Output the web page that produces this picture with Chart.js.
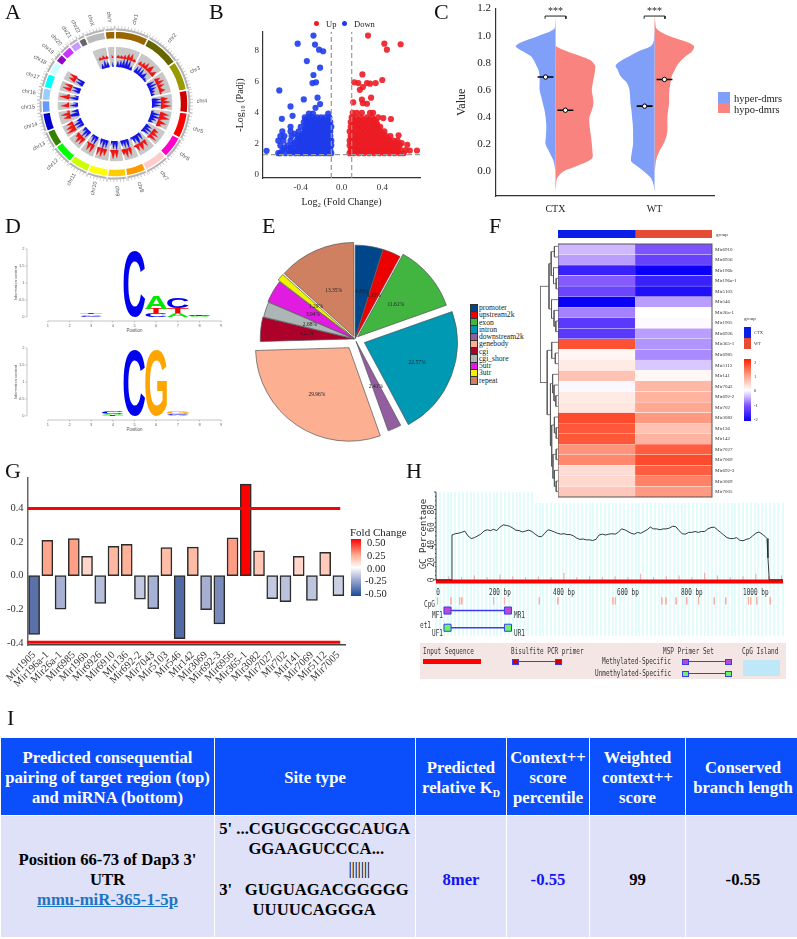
<!DOCTYPE html>
<html>
<head>
<meta charset="utf-8">
<script src="https://cdn.jsdelivr.net/npm/chart.js@4/dist/chart.umd.js"></script>
<style>
  html, body { margin: 0; background: #fff; }
  #page { position: relative; width: 797px; height: 939px; overflow: hidden; font-family: "Liberation Serif", serif; }
  canvas { position: absolute; }
  .txt { position: absolute; white-space: nowrap; transform-origin: left center; }
  .box { position: absolute; }
  table { position: absolute; left: 0; top: 737px; width: 797px; height: 201px; border-collapse: separate; border-spacing: 1.5px; table-layout: fixed;
    font: bold 16.7px/20.3px "Liberation Serif", serif; text-align: center; }
  th { background: #0a4ffb; color: #fff; font-weight: bold; padding: 3px 0 0 0; }
  td { background: #dfe1f8; color: #000; padding: 7px 0 0 0; }
  td.blue { color: #1414f0; }
  td a { color: #1b75c4; text-decoration: underline; }
  td.seq { text-align: left; line-height: 20.2px; padding: 0 0 14px 0; }
  sub { font-size: 10px; line-height: 0; }
</style>
</head>
<body>
<div id="page">
<table>
  <colgroup><col style="width:213px"><col style="width:200px"><col style="width:90px"><col style="width:82px"><col style="width:95px"><col style="width:114px"></colgroup>
  <tr style="height:77px">
    <th>Predicted consequential<br>pairing of target region (top)<br>and miRNA (bottom)</th>
    <th>Site type</th>
    <th>Predicted<br>relative K<sub>D</sub></th>
    <th>Context++<br>score<br>percentile</th>
    <th>Weighted<br>context++<br>score</th>
    <th>Conserved<br>branch length</th>
  </tr>
  <tr>
    <td>Position 66-73 of Dap3 3'<br>UTR<br><a href="#">mmu-miR-365-1-5p</a></td>
    <td class="seq">&nbsp;5' ...CGUGCGCGCAUGA<br>&nbsp;&nbsp;&nbsp;&nbsp;&nbsp;&nbsp;&nbsp;&nbsp;GGAAGUCCCA...<br>&nbsp;&nbsp;&nbsp;&nbsp;&nbsp;&nbsp;&nbsp;&nbsp;&nbsp;&nbsp;&nbsp;&nbsp;&nbsp;&nbsp;&nbsp;&nbsp;&nbsp;&nbsp;&nbsp;&nbsp;&nbsp;&nbsp;&nbsp;&nbsp;&nbsp;&nbsp;&nbsp;&nbsp;&nbsp;&nbsp;&nbsp;&nbsp;<span style="font-weight:normal;letter-spacing:-0.3px">|||||||</span><br>&nbsp;3'&nbsp;&nbsp;&nbsp;GUGUAGACGGGGG<br>&nbsp;&nbsp;&nbsp;&nbsp;&nbsp;&nbsp;&nbsp;&nbsp;&nbsp;UUUUCAGGGA</td>
    <td class="blue">8mer</td>
    <td class="blue">-0.55</td>
    <td>99</td>
    <td>-0.55</td>
  </tr>
</table>
</div>

<script>
// panel A - chromosome ring and tracks
var chrLabels = ['chr1','chr2','chr3','chr4','chr5','chr6','chr7','chr8','chr9','chr10','chr11','chr12','chr13','chr14','chr15','chr16','chr17','chr18','chr19','chr20','chr21','chr22','chrX','chrY'];
var chrSpans = [27,28,24,18,21,18,19,16,15,16,16,16,14,15,10,10,12,11,7,9,8,6,16,8];
var chrColors = ['#996600','#666600','#999900','#cc0000','#ff0000','#ff00cc','#ffcccc','#ff9900','#ffcc00','#ffff00','#ccff00','#00ff00','#358000','#0000cc','#6699ff','#99ccff','#00ffff','#ccffff','#9900cc','#cc33ff','#cc99ff','#666666','#bbbbbb','#996600'];
var gap15 = [null,null,null,null,null,null,null,null,null,null,null,null,null,null,null];
var redTrack = [
  null,1,3,1,3,1,4,1,6,2,7,1,3,1,
  null,1,4,1,5,2,7,1,5,8,1,3,6,1,
  null,1,6,2,8,1,7,2,3,6,1,2,
  null,2,7,3,9,1,10,4,1,
  null,2,9,3,10,4,1,9,3,5,1,
  null,1,6,2,8,1,9,2,1,
  null,1,7,1,5,8,1,7,2,1,
  null,2,8,1,9,3,6,1,
  null,1,8,2,9,3,1,
  null,1,7,2,9,1,8,1,
  null,2,9,1,8,2,1,
  null,1,8,2,9,3,5,1,
  null,2,10,3,9,1,7,1,
  null,1,7,2,9,1,3,
  null,1,8,2,1,
  null,2,10,3,1,
  null,2,9,1,8,1,
  null,1,7,2,8,1
].concat(gap15, [null,1,3,1,4,1,3,1], [null,3,1]);
var blueTrack = [
  null,1,6,1,7,2,9,2,11,3,9,1,4,1,
  null,1,7,2,9,1,8,2,4,7,1,3,1,2,
  null,1,8,2,10,1,7,2,5,1,4,1,
  null,2,9,3,11,2,9,2,1,
  null,3,1,10,2,11,3,7,2,5,1,
  null,1,7,2,10,1,8,2,1,
  null,2,8,1,7,10,2,7,1,3,
  null,3,10,1,8,2,6,1,
  null,2,9,2,8,1,5,
  null,1,8,2,10,1,6,1,
  null,2,10,1,8,1,4,
  null,1,8,2,10,1,5,1,
  null,2,8,1,10,2,5,1,
  null,1,8,10,1,7,1,
  null,2,8,1,5,
  null,2,10,1,5,
  null,1,8,2,9,1,
  null,1,8,2,10,1
].concat(gap15, [null,1,5,1,8,2,6,1], [null,5,1]);

// panel B - volcano, outliers read singly and the dense part read row by row
var upX = [.26,.42,.58,.445,.205,.4,.125,.165,.25,.28,.335,.21,.18,.115,.2,.21,.25,.29,.485,.41,.56,.74,.67,.645,.55,.59];
var upY = [8.97,8.45,8.41,8.06,6.47,6.11,5.96,5.91,5.91,5.87,5.91,5.66,5.48,4.67,4.84,4.62,4.58,4.97,3.6,3.66,2.55,1.57,1.57,1.94,2.05,2.05];
var downX = [-.275,-.43,-.26,-.22,-.18,-.34,-.21,-.275,-.285,-.25,-.61,-.37,-.235,-.21,-.255,-.5,-.48,-.585,-.735];
var downY = [8.97,8.45,8.39,8.06,7.96,7.33,6.9,6.43,5.91,5.96,5.44,4.86,4.97,4.56,4.32,4.41,3.8,3.61,1.55];
var upRowY = [1.4,1.5,1.6,1.75,1.9,2.05,2.2,2.35,2.5,2.65,2.8,2.95,3.1,3.25,3.4,3.55,3.7,4.0];
var upRowX = [
  [.08,.12,.17,.22,.27,.32,.37,.42,.47,.52,.57,.61],
  [.1,.15,.2,.25,.3,.35,.4,.45,.5,.55],
  [.09,.14,.19,.24,.29,.34,.39,.44,.49,.54,.58,.63],
  [.1,.155,.21,.26,.31,.36,.41,.46,.51,.55],
  [.08,.13,.18,.23,.28,.33,.38,.43,.48,.53,.57],
  [.1,.15,.2,.25,.3,.35,.4,.45,.5],
  [.08,.12,.17,.22,.27,.32,.37,.42,.47,.51,.55],
  [.1,.15,.2,.25,.3,.35,.4,.45],
  [.09,.14,.19,.24,.29,.34,.39,.44,.48],
  [.11,.16,.21,.26,.31,.36,.41],
  [.08,.13,.18,.23,.28,.33,.38,.42],
  [.11,.16,.21,.26,.31,.36],
  [.09,.13,.18,.23,.28,.33,.38],
  [.11,.16,.21,.26,.31,.35],
  [.09,.14,.19,.24,.29,.34],
  [.12,.17,.22,.27,.32],
  [.1,.14,.19,.25,.3,.36],
  [.11,.15,.2,.28,.31]
];
var downRowY = [1.4,1.5,1.6,1.75,1.9,2.05,2.2,2.35,2.5,2.65,2.8,2.95,3.1,3.25,3.4,3.55,3.7,3.95];
var downRowX = [
  [-.1,-.13,-.17,-.21,-.25,-.29,-.33,-.37,-.41,-.45,-.5,-.55,-.6,-.62],
  [-.12,-.16,-.2,-.24,-.28,-.32,-.36,-.4,-.44,-.49],
  [-.11,-.15,-.19,-.23,-.27,-.31,-.35,-.39,-.43,-.47,-.52,-.58],
  [-.12,-.16,-.2,-.25,-.29,-.33,-.37,-.41,-.45,-.5,-.56],
  [-.1,-.14,-.18,-.22,-.26,-.3,-.34,-.38,-.42,-.48,-.53,-.6],
  [-.12,-.16,-.21,-.26,-.3,-.34,-.38,-.42,-.46],
  [-.1,-.15,-.2,-.24,-.28,-.32,-.36,-.4,-.44,-.5,-.57,-.62],
  [-.12,-.17,-.22,-.26,-.3,-.34,-.38,-.42],
  [-.11,-.14,-.19,-.23,-.27,-.31,-.35,-.39,-.43,-.49,-.56,-.6],
  [-.13,-.18,-.22,-.26,-.3,-.34,-.38,-.46],
  [-.11,-.15,-.2,-.24,-.28,-.32,-.36,-.42,-.5,-.58],
  [-.12,-.16,-.2,-.24,-.28,-.32,-.36],
  [-.1,-.14,-.18,-.22,-.26,-.3,-.34,-.4,-.5],
  [-.12,-.17,-.22,-.27,-.32,-.35],
  [-.11,-.15,-.2,-.25,-.3,-.33,-.37],
  [-.13,-.18,-.23,-.27,-.31,-.35],
  [-.12,-.16,-.2,-.24,-.28,-.32,-.36],
  [-.13,-.28,-.32]
];

// panel C - split violins
var violinGrid = [1.15,1.1,1.05,1.0,.95,.92,.88,.85,.82,.78,.75,.7,.65,.6,.55,.5,.45,.4,.35,.3,.25,.2,.15,.1,.07,.03,0,-.05,-.1,-.15];
var ctxHyper = [0,.003,.013,.167,.35,.4,.317,.25,.22,.193,.173,.16,.16,.16,.143,.127,.11,.1,.093,.093,.097,.1,.067,.033,.017,.007,0,0,0,0];
var ctxHypo = [0,0,.003,.003,.003,.01,.133,.25,.35,.4,.4,.39,.377,.367,.377,.383,.367,.343,.343,.35,.36,.367,.373,.373,.317,.183,.083,.017,.007,0];
var wtHyper = [0,0,0,.003,.013,.043,.177,.25,.327,.393,.373,.343,.277,.253,.247,.243,.233,.227,.22,.217,.217,.217,.227,.237,.233,.16,.11,.037,.01,0];
var wtHypo = [0,.007,.023,.14,.34,.4,.373,.317,.273,.227,.207,.173,.16,.15,.147,.147,.137,.13,.13,.13,.117,.09,.05,.023,.013,.007,0,0,0,0];
var violinMedians = [.695,.45,.48,.677];

// panel D - logo stacks, bottom layer first
var logoPositions = ['1','2','3','4','5','6','7','8','9'];
var logoTicks = [0,.5,1,1.5,2];
var logo1Heights = [
  [.01,.01,.03,.01,1.95,.12,.12,.02,.01],
  [.01,.01,.05,.01,0,.13,.15,.02,.01],
  [.01,.01,.05,.01,0,.36,.3,.03,.01]
];
var logo1Letters = [
  ['G','T','C','T','C','C','A','A','T'],
  ['A','C','A','C','C','T','T','T','A'],
  ['T','G','T','G','C','A','C','C','G']
];
var logo2Heights = [
  [.01,.01,.01,.02,1.92,1.92,.02,.01,.01],
  [.01,.01,.01,.04,0,0,.05,.01,.01],
  [.01,.01,.01,.06,0,0,.06,.01,.01]
];
var logo2Letters = [
  ['A','T','C','T','C','G','A','G','T'],
  ['G','A','T','A','C','G','C','A','C'],
  ['T','C','G','C','C','G','G','C','A']
];

// panel E
var regionNames = ['promoter','upstream2k','exon','intron','downstream2k','genebody','cgi','cgi_shore','5utr','3utr','repeat'];
var regionPercent = [4.83,3.15,11.61,22.57,2.41,29.96,4.21,2.68,3.94,1.29,13.35];
var regionColors = ['#00468b','#ed0000','#42b540','#0099b4','#925e9f','#fdaf91','#ad002a','#adb6b6','#e11be1','#f1f100','#cf8060'];
var regionOffset = [2,2,14,40,10,42,4,2,4,8,12];

// panel F - z-scores, one row per miRNA
var heatRows = ['Mir6910','Mir6956','Mir196b','Mir196a-1','Mir5103','Mir546','Mir26a-1','Mir1905','Mir6926','Mir365-1','Mir6985','Mir5112','Mir141','Mir7043','Mir692-2','Mir702','Mir3082','Mir136','Mir142','Mir7027','Mir7069','Mir692-3','Mir3069','Mir7005'];
var heatCtx = [-.45,-.6,-1.6,-.95,-1.15,-2,-.75,-1.3,-1.3,1.6,.1,.2,.6,-.05,.2,.25,1.65,1.55,1.55,1.05,1.15,.35,.4,.55];
var heatWt = [-1,-1.2,-2,-1.6,-1.8,-.6,0,-.03,-.6,-.65,-.7,-.35,.08,.7,.75,.85,1,.6,.75,1.5,1.65,1.5,1.2,1];
var heatStops = [[-2,'#0a00f5'],[-1,'#7d52ff'],[-.5,'#c8b0ff'],[0,'#ffffff'],[1,'#ff9a80'],[2,'#ff2000']];
// [merge height, child, child], children are row numbers or further merges
var heatTree = [1,
  [.5,
    [.38,[.2,1,2],[.25,3,[.1,4,5]]],
    [.36,6,[.22,7,[.12,8,9]]]],
  [.6,
    [.35,10,[.15,11,12]],
    [.42,
      [.3,13,[.22,14,[.12,15,16]]],
      [.35,[.2,17,[.1,18,19]],[.28,[.1,20,21],[.2,22,[.1,23,24]]]]]]];

// panel G
var foldNames = ['Mir1905','Mir196a-1','Mir26a-1','Mir6985','Mir196b','Mir6926','Mir6910','Mir136','Mir692-2','Mir7043','Mir5103','Mir546','Mir142','Mir3069','Mir692-3','Mir6956','Mir365-1','Mir3082','Mir7027','Mir702','Mir141','Mir7069','Mir5112','Mir7005'];
var foldValues = [-.35,.21,-.2,.22,.115,-.165,.175,.187,-.14,-.197,.167,-.375,.17,-.202,-.287,.225,.545,.147,-.137,-.155,.115,-.147,.138,-.12];
var foldStops = [[-.5,'#1a4a96'],[-.35,'#5a70a8'],[-.2,'#a6b0d2'],[0,'#ffffff'],[.11,'#ffd8cc'],[.2,'#ffab90'],[.5,'#ff0000']];

// panel H
var gcBp = [0,47,50,60,70,80,90,100,110,120,130,140,150,160,170,180,190,200,210,220,230,240,250,260,270,280,290,300,310,320,330,340,350,360,370,380,390,400,410,420,430,440,450,460,470,480,490,500,510,520,530,540,550,560,570,580,590,600,610,620,630,640,650,660,670,680,690,700,710,720,730,740,750,760,770,780,790,800,810,820,830,840,850,860,870,880,890,900,910,920,930,940,950,960,970,980,990,1000,1010,1020,1030,1035,1038,1042,1085];
var gcValue = [0,0,51,52.5,53,54,55.5,50,47,48,50,52,55.5,57,56,57.5,56,60,62.5,62,61,59,56.5,56,54.5,55.5,56.5,55,52,49.5,49,53,57,56,54.5,53,52,52.5,51.5,51.5,50,47.5,46,46.5,45.5,45.5,44.8,46,51,52,51,52,52.5,52,54,58,57,55,53,52,54,53,55,57,60,58,58,57,58,58,59,61,60.5,56,52.5,52,54,54,55,54,55,55,58,59.5,60,57,54,51,48,47,47,48,45,44.5,46,47,50,53,54.5,52,49,47,25,0,0];
var siteBp = [0,40,80,120,160,200,240,280,320,360,400,440,480,520,560,600,640,680,720,760,800,840,880,920,960,1000,1040,1080];
var siteHeight = [3,4,3,5,3,6,4,3,4,3,8,3,4,3,4,3,7,3,4,5,3,8,5,3,4,7,4,5];
var cpgBp = [5,47,74,81,180,214,323,381,553,561,706,719,751,784,821,870,906,977,984,1003,1045];
var gcTicks = [0,20,40,60,80];
var bpTicks = [0,200,400,600,800,1000];

// ---- helpers ----
var page = document.getElementById('page');

function newCanvas(left, top, w, h, bg) {
  var c = document.createElement('canvas');
  c.width = w; c.height = h;
  c.style.left = left + 'px'; c.style.top = top + 'px';
  c.style.width = w + 'px'; c.style.height = h + 'px';
  if (bg) c.style.background = bg;
  page.appendChild(c);
  return c.getContext('2d');
}

function putText(text, x, y, css) {
  var d = document.createElement('div');
  d.className = 'txt';
  d.textContent = text;
  d.style.cssText = 'left:' + x + 'px;top:' + y + 'px;' + (css || '');
  if (d.style.transform == '') d.style.transform = 'translateY(-50%)';
  page.appendChild(d);
  return d;
}

function putBox(x, y, w, h, css) {
  var d = document.createElement('div');
  d.className = 'box';
  d.style.cssText = 'left:' + x + 'px;top:' + y + 'px;width:' + w + 'px;height:' + h + 'px;' + (css || '');
  page.appendChild(d);
}

function colorAt(stops, v) {
  for (var i = 1; i < stops.length; i++) {
    if (v <= stops[i][0] || i == stops.length - 1) {
      var a = stops[i - 1], b = stops[i];
      var t = Math.max(0, Math.min(1, (v - a[0]) / (b[0] - a[0])));
      var out = [1, 3, 5].map(function (p) {
        var ca = parseInt(a[1].substr(p, 2), 16), cb = parseInt(b[1].substr(p, 2), 16);
        return Math.round(ca + (cb - ca) * t);
      });
      return 'rgb(' + out.join(',') + ')';
    }
  }
}

function base() {
  return { responsive: false, animation: false, devicePixelRatio: 1, events: [], plugins: { legend: { display: false }, tooltip: { enabled: false } } };
}

function opts(extra) {
  return Object.assign(base(), extra);
}

function fixedWidth(w) { return function (s) { s.width = w; }; }
function fixedHeight(h) { return function (s) { s.height = h; }; }
function rows(ys, xs) {
  var out = [];
  ys.forEach(function (y, i) { xs[i].forEach(function (x) { out.push({ x: x, y: y }); }); });
  return out;
}

// ---- panels ----
function showCircos() {
  var ring = {
    id: 'ring',
    afterDraw: function (chart) {
      var c = chart.ctx, cx = 100, cy = 100, start = 0;
      c.save();
      chrSpans.forEach(function (span, i) {
        var a0 = (start + .6 - 90) * Math.PI / 180, a1 = (start + span - .6 - 90) * Math.PI / 180;
        c.strokeStyle = '#b5b5b5'; c.lineWidth = 2;
        c.beginPath(); c.arc(cx, cy, 74.5, a0, a1); c.stroke();
        c.strokeStyle = '#999'; c.lineWidth = .5;
        for (var t = 0; t <= span; t += 2.5) {
          var a = (start + t - 90) * Math.PI / 180;
          c.beginPath(); c.moveTo(cx + 75 * Math.cos(a), cy + 75 * Math.sin(a)); c.lineTo(cx + 78 * Math.cos(a), cy + 78 * Math.sin(a)); c.stroke();
        }
        var mid = start + span / 2, m = (mid - 90) * Math.PI / 180;
        c.save();
        c.translate(cx + 87 * Math.cos(m), cy + 87 * Math.sin(m));
        c.rotate(mid < 180 ? m : m + Math.PI);
        c.font = '5.5px "Liberation Sans"'; c.fillStyle = '#555'; c.textAlign = 'center'; c.textBaseline = 'middle';
        c.fillText(chrLabels[i], 0, 0);
        c.restore();
        start += span;
      });
      c.restore();
    }
  };
  new Chart(newCanvas(15, 4, 200, 200), {
    type: 'doughnut',
    data: {
      labels: chrLabels,
      datasets: [
        { data: chrSpans, backgroundColor: chrColors, borderColor: '#fff', borderWidth: 1.5, weight: 8 },
        { data: [360], backgroundColor: 'rgba(0,0,0,0)', borderWidth: 0, weight: 7 },
        { data: chrSpans, backgroundColor: chrLabels.map(function (n) { return /chr(19|2\d)/.test(n) ? 'rgba(0,0,0,0)' : '#c8c8c8'; }), borderColor: '#fff', borderWidth: 1.5, weight: 21 }
      ]
    },
    options: opts({ radius: 73, cutout: '50.7%' }),
    plugins: [ring]
  });
  new Chart(newCanvas(15, 4, 200, 200), {
    type: 'radar',
    data: {
      labels: redTrack.map(function (v, i) { return i; }),
      datasets: [
        { data: redTrack.map(function (v) { return v == null ? null : 46 + v; }), borderColor: '#f01414', backgroundColor: '#f01414', borderWidth: .3, pointRadius: 0, fill: { value: 46 }, tension: 0, spanGaps: false },
        { data: blueTrack.map(function (v) { return v == null ? null : 37 + v; }), borderColor: '#1414e8', backgroundColor: '#1414e8', borderWidth: .3, pointRadius: 0, fill: { value: 37 }, tension: 0, spanGaps: false }
      ]
    },
    options: opts({ scales: { r: { display: false, min: 0, max: 100 } } })
  });
}

function showVolcano() {
  var f = '"Liberation Serif"';
  new Chart(newCanvas(210, 0, 215, 210), {
    type: 'scatter',
    data: {
      datasets: [
        { data: [{ x: -.77, y: 1.3 }, { x: .77, y: 1.3 }], showLine: true, borderColor: '#999', borderWidth: 1.2, borderDash: [5, 3], pointRadius: 0, order: 0 },
        { data: [{ x: -.1, y: -.2 }, { x: -.1, y: 9.2 }], showLine: true, borderColor: '#999', borderWidth: 1.2, borderDash: [5, 3], pointRadius: 0, order: 0 },
        { data: [{ x: .1, y: -.2 }, { x: .1, y: 9.2 }], showLine: true, borderColor: '#999', borderWidth: 1.2, borderDash: [5, 3], pointRadius: 0, order: 0 },
        { label: 'Up', data: upX.map(function (x, i) { return { x: x, y: upY[i] }; }).concat(rows(upRowY, upRowX)), backgroundColor: 'rgba(236,28,36,.9)', pointRadius: 3.1, borderWidth: 0, order: 1 },
        { label: 'Down', data: downX.map(function (x, i) { return { x: x, y: downY[i] }; }).concat(rows(downRowY, downRowX)), backgroundColor: 'rgba(30,60,235,.9)', pointRadius: 3.1, borderWidth: 0, order: 1 }
      ]
    },
    options: opts({
      layout: { padding: { top: 32, right: 5 } },
      scales: {
        x: { min: -.77, max: .77, afterFit: fixedHeight(32), afterBuildTicks: function (s) { s.ticks = [{ value: -.4 }, { value: 0 }, { value: .4 }]; },
          grid: { display: false, drawTicks: true, tickLength: 3, tickColor: '#444' }, border: { color: '#333', width: 1.2 },
          ticks: { maxRotation: 0, color: '#333', font: { family: f, size: 9 }, padding: 1, callback: function (v) { return v.toFixed(1); } },
          title: { display: true, text: 'Log\u2082 (Fold Change)', color: '#222', font: { family: f, size: 10 }, padding: { top: 0, bottom: 2 } } },
        y: { min: -.2, max: 9.2, afterFit: fixedWidth(53), afterBuildTicks: function (s) { s.ticks = [0, 2, 4, 6, 8].map(function (v) { return { value: v }; }); },
          grid: { display: false, tickLength: 3, tickColor: '#444' }, border: { color: '#333', width: 1.2 },
          ticks: { color: '#333', font: { family: f, size: 9 }, padding: 1 },
          title: { display: true, text: '-Log\u2081\u2080 (Padj)', color: '#222', font: { family: f, size: 10 }, padding: { top: 24, bottom: 0 } } }
      }
    })
  });
  putBox(314, 21, 5, 5, 'background:#ec1c24;border-radius:50%');
  putText('Up', 326, 24, 'font-size:8.5px;color:#222');
  putBox(342, 21, 5, 5, 'background:#1e3ceb;border-radius:50%');
  putText('Down', 354, 24, 'font-size:8.5px;color:#222');
}

function showViolins() {
  var f = '"Liberation Serif"';
  var centers = [.6, .6, 1.6, 1.6];
  var sides = [-1, 1, -1, 1];
  var shapes = [ctxHyper, ctxHypo, wtHyper, wtHypo];
  var colors = ['#7f9ff9', '#f9837e', '#7f9ff9', '#f9837e'];
  var sets = shapes.map(function (w, k) {
    return {
      data: violinGrid.map(function (v, i) { return { x: centers[k] + sides[k] * w[i], y: v }; }),
      borderColor: colors[k], backgroundColor: colors[k], borderWidth: 0, pointRadius: 0, tension: .3,
      fill: { target: { value: centers[k] } }, order: 3
    };
  });
  violinMedians.forEach(function (m, k) {
    var c = centers[k] + sides[k] * .1;
    sets.push({ data: [{ x: c - .08, y: m }, { x: c, y: m }, { x: c + .08, y: m }], borderColor: '#000', borderWidth: 1.6,
      pointRadius: [0, 2.2, 0], pointBackgroundColor: '#fff', pointBorderColor: '#000', pointBorderWidth: 1, fill: false, order: 1 });
  });
  [.6, 1.6].forEach(function (c) {
    sets.push({ data: [{ x: c - .105, y: 1.125 }, { x: c - .105, y: 1.145 }, { x: c + .105, y: 1.145 }, { x: c + .105, y: 1.125 }], borderColor: '#222', borderWidth: 1, pointRadius: 0, fill: false, order: 1 });
  });
  new Chart(newCanvas(430, 0, 290, 218), {
    type: 'line',
    data: { datasets: sets },
    options: opts({
      indexAxis: 'y',
      layout: { padding: { top: 5, right: 6 } },
      scales: {
        x: { type: 'linear', min: 0, max: 2.2, afterFit: fixedHeight(22), afterBuildTicks: function (s) { s.ticks = [{ value: .6 }, { value: 1.6 }]; },
          grid: { display: false, tickLength: 3, tickColor: '#333' }, border: { color: '#333', width: 1.2 },
          ticks: { maxRotation: 0, color: '#222', font: { family: f, size: 10 }, padding: 4, callback: function (v) { return v < 1 ? 'CTX' : 'WT'; } } },
        y: { type: 'linear', min: -.183, max: 1.2, afterFit: fixedWidth(66), afterBuildTicks: function (s) { s.ticks = [0, .2, .4, .6, .8, 1, 1.2].map(function (v) { return { value: v }; }); },
          grid: { display: false, tickLength: 3, tickColor: '#333' }, border: { color: '#333', width: 1.2 },
          ticks: { color: '#222', font: { family: f, size: 11 }, padding: 2, callback: function (v) { return v.toFixed(1); } },
          title: { display: true, text: 'Value', color: '#222', font: { family: f, size: 12 }, padding: { top: 25, bottom: 0 } } }
      }
    })
  });
  putText('***', 548, 10, 'font-size:10px;color:#222');
  putText('***', 647, 10, 'font-size:10px;color:#222');
  putBox(718, 92, 12, 10.5, 'background:#7f9ff9');
  putBox(718, 102.5, 12, 10.5, 'background:#f9837e');
  putText('hyper-dmrs', 734, 97.5, 'font-size:10.5px;color:#222');
  putText('hypo-dmrs', 734, 108.5, 'font-size:10.5px;color:#222');
}

function showLogo(heights, letters, top) {
  var letterColor = { A: '#00e800', C: '#0000f0', G: '#ffa500', T: '#f00000' };
  var stretch = {
    id: 'stretch',
    afterDatasetsDraw: function (chart) {
      var c = chart.ctx;
      c.save();
      c.font = 'bold 100px "Liberation Sans"';
      c.textBaseline = 'alphabetic';
      c.textAlign = 'left';
      chart.data.datasets.forEach(function (ds, di) {
        chart.getDatasetMeta(di).data.forEach(function (el, i) {
          if (!heights[di][i]) return;
          var L = letters[di][i], m = c.measureText(L);
          var mw = m.actualBoundingBoxLeft + m.actualBoundingBoxRight, mh = m.actualBoundingBoxAscent + m.actualBoundingBoxDescent;
          var w = el.width, h = Math.abs(el.base - el.y);
          c.save();
          c.translate(el.x - w / 2, el.y);
          c.scale(w / mw, h / mh);
          c.fillStyle = letterColor[L];
          c.fillText(L, m.actualBoundingBoxLeft, m.actualBoundingBoxAscent);
          c.restore();
        });
      });
      // the logo axes sit away from the plot
      var x = chart.scales.x, y = chart.scales.y, b = y.getPixelForValue(0) + 4;
      c.strokeStyle = '#888'; c.lineWidth = .5;
      c.beginPath(); c.moveTo(x.getPixelForTick(0), b); c.lineTo(x.getPixelForTick(8), b);
      for (var i = 0; i < 9; i++) { c.moveTo(x.getPixelForTick(i), b); c.lineTo(x.getPixelForTick(i), b + 1.5); }
      c.moveTo(27, y.getPixelForValue(2)); c.lineTo(27, y.getPixelForValue(0));
      logoTicks.forEach(function (t) { c.moveTo(27, y.getPixelForValue(t)); c.lineTo(25.5, y.getPixelForValue(t)); });
      c.stroke();
      c.font = '4px "Liberation Sans"'; c.fillStyle = '#666'; c.textAlign = 'right'; c.textBaseline = 'middle';
      logoTicks.forEach(function (t) { c.fillText(t, 24.5, y.getPixelForValue(t)); });
      c.restore();
    }
  };
  new Chart(newCanvas(0, top, 240, 100), {
    type: 'bar',
    data: {
      labels: logoPositions,
      datasets: heights.map(function (h) { return { data: h, backgroundColor: 'rgba(0,0,0,0)', barPercentage: 1, categoryPercentage: 1, borderWidth: 0 }; })
    },
    options: opts({
      layout: { padding: { top: 6, right: 8 } },
      scales: {
        x: { stacked: true, afterFit: fixedHeight(26), grid: { display: false, drawTicks: false }, border: { display: false },
          ticks: { color: '#666', font: { size: 4 }, padding: 6, maxRotation: 0 },
          title: { display: true, text: 'Position', color: '#555', font: { size: 4.5 }, padding: { top: 0, bottom: 9.5 } } },
        y: { stacked: true, min: 0, max: 2, afterFit: fixedWidth(37), grid: { display: false, drawTicks: false }, border: { display: false },
          ticks: { display: false },
          title: { display: true, text: 'Information content', color: '#555', font: { size: 4 }, padding: { top: 13, bottom: 0 } } }
      }
    }),
    plugins: [stretch]
  });
}

function showPie() {
  var f = '"Liberation Serif"';
  var pct = {
    id: 'pct',
    afterDatasetsDraw: function (chart) {
      var c = chart.ctx;
      c.font = '5.5px ' + f; c.fillStyle = '#222'; c.textAlign = 'center'; c.textBaseline = 'middle';
      chart.getDatasetMeta(0).data.forEach(function (el, i) {
        var p = el.getCenterPoint();
        c.fillText(regionPercent[i].toFixed(2) + '%', p.x, p.y);
      });
    }
  };
  new Chart(newCanvas(240, 219, 230, 240), {
    type: 'pie',
    data: { labels: regionNames, datasets: [{ data: regionPercent, backgroundColor: regionColors, borderColor: '#555', borderWidth: .7, offset: regionOffset }] },
    options: opts({ radius: 93 }),
    plugins: [pct]
  });
  regionNames.forEach(function (n, i) {
    var y = 303.5 + i * 7.25;
    putBox(470, y, 5.5, 6.5, 'background:' + regionColors[i] + ';border:.5px solid #333');
    putText(n, 479, y + 3.5, 'font-size:7.6px;color:#222');
  });
}

function showHeatmap() {
  var f = '"Liberation Serif"';
  var frame = {
    id: 'frame',
    afterDraw: function (chart) {
      var a = chart.chartArea, c = chart.ctx;
      c.strokeStyle = '#555'; c.lineWidth = 1;
      c.strokeRect(a.left, a.top, a.right - a.left, a.bottom - a.top);
    }
  };
  function cell(values) {
    return { data: values.map(function () { return 1; }), backgroundColor: values.map(function (v) { return colorAt(heatStops, v); }), borderColor: '#fff', borderWidth: { top: .4, bottom: .4, left: .3, right: .3 }, barPercentage: 1, categoryPercentage: 1 };
  }
  new Chart(newCanvas(558, 238, 239, 265, '#fff'), {
    type: 'bar',
    data: { labels: heatRows, datasets: [cell(heatCtx), cell(heatWt)] },
    options: opts({
      indexAxis: 'y',
      layout: { padding: { top: 3, bottom: 6 } },
      scales: {
        x: { stacked: true, min: 0, max: 2, display: false },
        y: { stacked: true, position: 'right', afterFit: fixedWidth(85), grid: { display: false, drawTicks: false }, border: { display: false },
          ticks: { autoSkip: false, color: '#333', font: { family: f, size: 5 }, padding: 3, crossAlign: 'near' } }
      }
    }),
    plugins: [frame]
  });
  new Chart(newCanvas(558, 220, 239, 18, '#fff'), {
    type: 'bar',
    data: { labels: ['group'], datasets: [
      { data: [1], backgroundColor: '#0a1ee8', barPercentage: 1, categoryPercentage: 1 },
      { data: [1], backgroundColor: '#e64b35', barPercentage: 1, categoryPercentage: 1 }
    ] },
    options: opts({
      indexAxis: 'y',
      layout: { padding: { top: 10, right: 85 } },
      scales: {
        x: { stacked: true, min: 0, max: 2, display: false },
        y: { stacked: true, display: false }
      }
    })
  });
  putText('group', 716, 234, 'font-size:5px;color:#333');

  // dendrogram, segments separated by empty points
  var segs = [];
  function walk(node) {
    if (typeof node == 'number') return { h: 0, y: node };
    var a = walk(node[1]), b = walk(node[2]), h = node[0];
    segs.push({ x: a.h, y: a.y }, { x: h, y: a.y }, { x: h, y: b.y }, { x: b.h, y: b.y }, { x: null, y: null });
    return { h: h, y: (a.y + b.y) / 2 };
  }
  walk(heatTree);
  new Chart(newCanvas(535, 238, 23, 265, '#fff'), {
    type: 'scatter',
    data: { datasets: [{ data: segs, showLine: true, spanGaps: false, borderColor: '#555', borderWidth: .8, pointRadius: 0 }] },
    options: opts({
      layout: { padding: { left: 5, top: 3, bottom: 6 } },
      scales: {
        x: { display: false, min: 0, max: 1, reverse: true },
        y: { display: false, min: .5, max: 24.5, reverse: true }
      }
    })
  });

  putText('group', 744, 318, 'font-size:5px;color:#333');
  putBox(744, 327, 7, 10.5, 'background:#0a1ee8');
  putBox(744, 338, 7, 10.5, 'background:#e64b35');
  putText('CTX', 754, 332, 'font-size:4.5px;color:#333');
  putText('WT', 754, 343, 'font-size:4.5px;color:#333');
  putBox(744, 359, 7, 62, 'background:linear-gradient(#ff2000,#ff9a80 25%,#fff 50%,#c8b0ff 62%,#7d52ff 75%,#0a00f5)');
  ['2', '1', '0', '-1', '-2'].forEach(function (t, i) { putText(t, 754, 362 + i * 14.2, 'font-size:4.5px;color:#333'); });
}

function showFoldBars() {
  var f = '"Liberation Serif"';
  new Chart(newCanvas(0, 470, 400, 235), {
    type: 'bar',
    data: {
      labels: foldNames,
      datasets: [
        { xAxisID: 'x', data: foldValues, backgroundColor: foldValues.map(function (v) { return colorAt(foldStops, v); }), borderColor: '#2b2b2b', borderWidth: 1.5, barThickness: 11, grouped: false, borderSkipped: false, order: 1 },
        { type: 'line', xAxisID: 'x2', data: [{ x: 0, y: .4 }, { x: .985, y: .4 }], borderColor: '#ff0000', borderWidth: 3, pointRadius: 0, order: 0 },
        { type: 'line', xAxisID: 'x2', data: [{ x: 0, y: -.397 }, { x: .985, y: -.397 }], borderColor: '#ff0000', borderWidth: 3, pointRadius: 0, order: 0 }
      ]
    },
    options: opts({
      layout: { padding: { top: 7.7, right: 55 } },
      scales: {
        x: { afterFit: fixedHeight(60), grid: { display: false, tickLength: 4, tickColor: '#444' }, border: { color: '#444', width: 1.5 },
          ticks: { autoSkip: false, minRotation: 45, maxRotation: 45, color: '#333', font: { family: f, size: 10.5 }, padding: 0 } },
        x2: { type: 'linear', min: 0, max: 1, display: false, offset: false },
        y: { min: -.413, max: .583, afterFit: fixedWidth(27.5), afterBuildTicks: function (s) { s.ticks = [-.4, -.2, 0, .2, .4].map(function (v) { return { value: v }; }); },
          grid: { display: false, tickLength: 3, tickColor: '#444' }, border: { color: '#666', width: 1.5 },
          ticks: { color: '#333', font: { family: f, size: 10.5 }, padding: 1, callback: function (v) { return v.toFixed(1); } } }
      }
    })
  });
  putText('Fold Change', 350, 532, 'font-size:11px;color:#222');
  putBox(350.5, 539, 10.5, 57, 'background:linear-gradient(#ff0000,#ffab90 28%,#fff 50%,#a6b0d2 70%,#1a4a96)');
  ['0.50', '0.25', '0.00', '-0.25', '-0.50'].forEach(function (t, i) {
    putText(t, i < 3 ? 367 : 365, 542 + i * 12.8, 'font-size:10.5px;color:#222');
  });
}

function showGcPlot() {
  var mono = '"DejaVu Sans Mono"';
  var segments = function (xs, top) {
    var out = [];
    xs.forEach(function (x, i) { out.push({ x: x, y: top[0](i) }, { x: x, y: top[1](i) }, { x: null, y: null }); });
    return out;
  };
  var gcAxes = {
    id: 'gcAxes',
    afterDraw: function (chart) {
      var x = chart.scales.x, y = chart.scales.y, c = chart.ctx, x0 = chart.chartArea.left;
      c.save();
      c.strokeStyle = '#222'; c.lineWidth = .8; c.fillStyle = '#333';
      c.beginPath(); c.moveTo(x0, y.getPixelForValue(100)); c.lineTo(x0, y.getPixelForValue(0));
      for (var v = 0; v <= 100; v += 5) { c.moveTo(x0, y.getPixelForValue(v)); c.lineTo(x0 - (v % 20 ? 1 : 2), y.getPixelForValue(v)); }
      c.stroke();
      c.font = '8px ' + mono; c.textAlign = 'center'; c.textBaseline = 'middle';
      gcTicks.forEach(function (v) {
        c.save(); c.translate(x0 - 4, y.getPixelForValue(v)); c.rotate(-Math.PI / 2); c.fillText(v, 0, 0); c.restore();
      });
      c.save(); c.translate(24, y.getPixelForValue(52)); c.rotate(-Math.PI / 2); c.font = '9px ' + mono; c.fillText('GC Percentage', 0, 0); c.restore();
      c.font = '9px ' + mono;
      bpTicks.forEach(function (b) {
        c.save(); c.translate(x.getPixelForValue(b) + (b ? 0 : 2), y.getPixelForValue(0) + 13); c.scale(.67, 1); c.fillText(b ? b + ' bp' : '0', 0, 0); c.restore();
      });
      c.restore();
    }
  };
  var primer = function (yv, fill) {
    return { data: [{ x: 36, y: yv }, { x: 225, y: yv }], showLine: true, borderColor: '#3c3cf0', borderWidth: 1.4, pointStyle: 'rect', pointRadius: 5, pointBackgroundColor: fill, pointBorderColor: '#3c3cf0', pointBorderWidth: 1 };
  };
  new Chart(newCanvas(400, 486, 397, 156), {
    type: 'scatter',
    data: {
      datasets: [
        { data: gcBp.map(function (b, i) { return { x: b, y: gcValue[i] }; }), showLine: true, borderColor: '#222', borderWidth: .9, pointRadius: 0 },
        { data: [{ x: 0, y: -2 }, { x: 1085, y: -2 }], showLine: true, borderColor: '#f00', borderWidth: 4, pointRadius: 0 },
        { data: segments(siteBp, [function () { return 0; }, function (i) { return siteHeight[i]; }]), showLine: true, spanGaps: false, borderColor: '#f28a8a', borderWidth: .8, pointRadius: 0 },
        { data: segments(cpgBp, [function () { return -20; }, function () { return -28; }]), showLine: true, spanGaps: false, borderColor: '#fbb0a0', borderWidth: 1, pointRadius: 0 },
        primer(-35, '#b84ad6'),
        primer(-54.6, '#66f566')
      ]
    },
    options: opts({
      layout: { padding: { left: 36, right: 14 } },
      scales: {
        x: { display: false, min: 0, max: 1085 },
        stripes: { type: 'linear', axis: 'x', position: 'top', min: 0, max: 1085, afterFit: fixedHeight(0), ticks: { display: false, stepSize: 12, autoSkip: false, maxTicksLimit: 100 }, grid: { color: '#e2fbfb', lineWidth: 2, drawTicks: false }, border: { display: false } },
        y: { display: false, min: -64, max: 100 }
      }
    }),
    plugins: [gcAxes]
  });

  var narrow = 'font:9px ' + mono + ';color:#333;transform:translateY(-50%) scaleX(.67);';
  putText('CpG', 424, 604, narrow);
  putText('MF1', 432, 615, narrow);
  putText('MR1', 514, 615, narrow);
  putText('et1', 420, 625, narrow);
  putText('UF1', 432, 633, narrow);
  putText('UR1', 514, 633, narrow);

  putBox(420, 643, 366, 36, 'background:#f5e6e6');
  putText('Input Sequence', 423, 651, narrow);
  putBox(423, 658.5, 58, 5.5, 'background:#f00');
  putText('Bisulfite PCR primer', 511, 651, narrow);
  putBox(515, 661, 43, 1.4, 'background:#3c3cf0');
  putBox(511.5, 659, 5, 4, 'background:#d00000;border:1px solid #3c3cf0');
  putBox(555, 659, 5, 4, 'background:#d00000;border:1px solid #3c3cf0');
  putText('MSP Primer Set', 663, 651, narrow);
  putText('Methylated-Specific', 602, 661, narrow);
  putText('Unmethylated-Specific', 595, 672.5, narrow);
  putBox(684, 661, 43, 1.4, 'background:#3c3cf0');
  putBox(682, 659, 5, 4, 'background:#b84ad6;border:1px solid #3c3cf0');
  putBox(724.5, 659, 5, 4, 'background:#b84ad6;border:1px solid #3c3cf0');
  putBox(684, 672.5, 43, 1.4, 'background:#3c3cf0');
  putBox(682, 670.5, 5, 4, 'background:#66f566;border:1px solid #3c3cf0');
  putBox(724.5, 670.5, 5, 4, 'background:#66f566;border:1px solid #3c3cf0');
  putText('CpG Island', 742, 651, narrow);
  putBox(743, 659.5, 37, 16.5, 'background:#bee8f8');
}

showCircos();
showVolcano();
showViolins();
showLogo(logo1Heights, logo1Letters, 243);
showLogo(logo2Heights, logo2Letters, 342);
showPie();
showGcPlot();
showHeatmap();
showFoldBars();

var panelLetters = [['A', 5, 12], ['B', 209, 12], ['C', 434, 12], ['D', 5, 226], ['E', 262, 226], ['F', 489, 226], ['G', 5, 471], ['H', 406, 471], ['I', 7, 718]];
panelLetters.forEach(function (p) { putText(p[0], p[1], p[2], 'font-size:22px;color:#111'); });
</script>
</body>
</html>
